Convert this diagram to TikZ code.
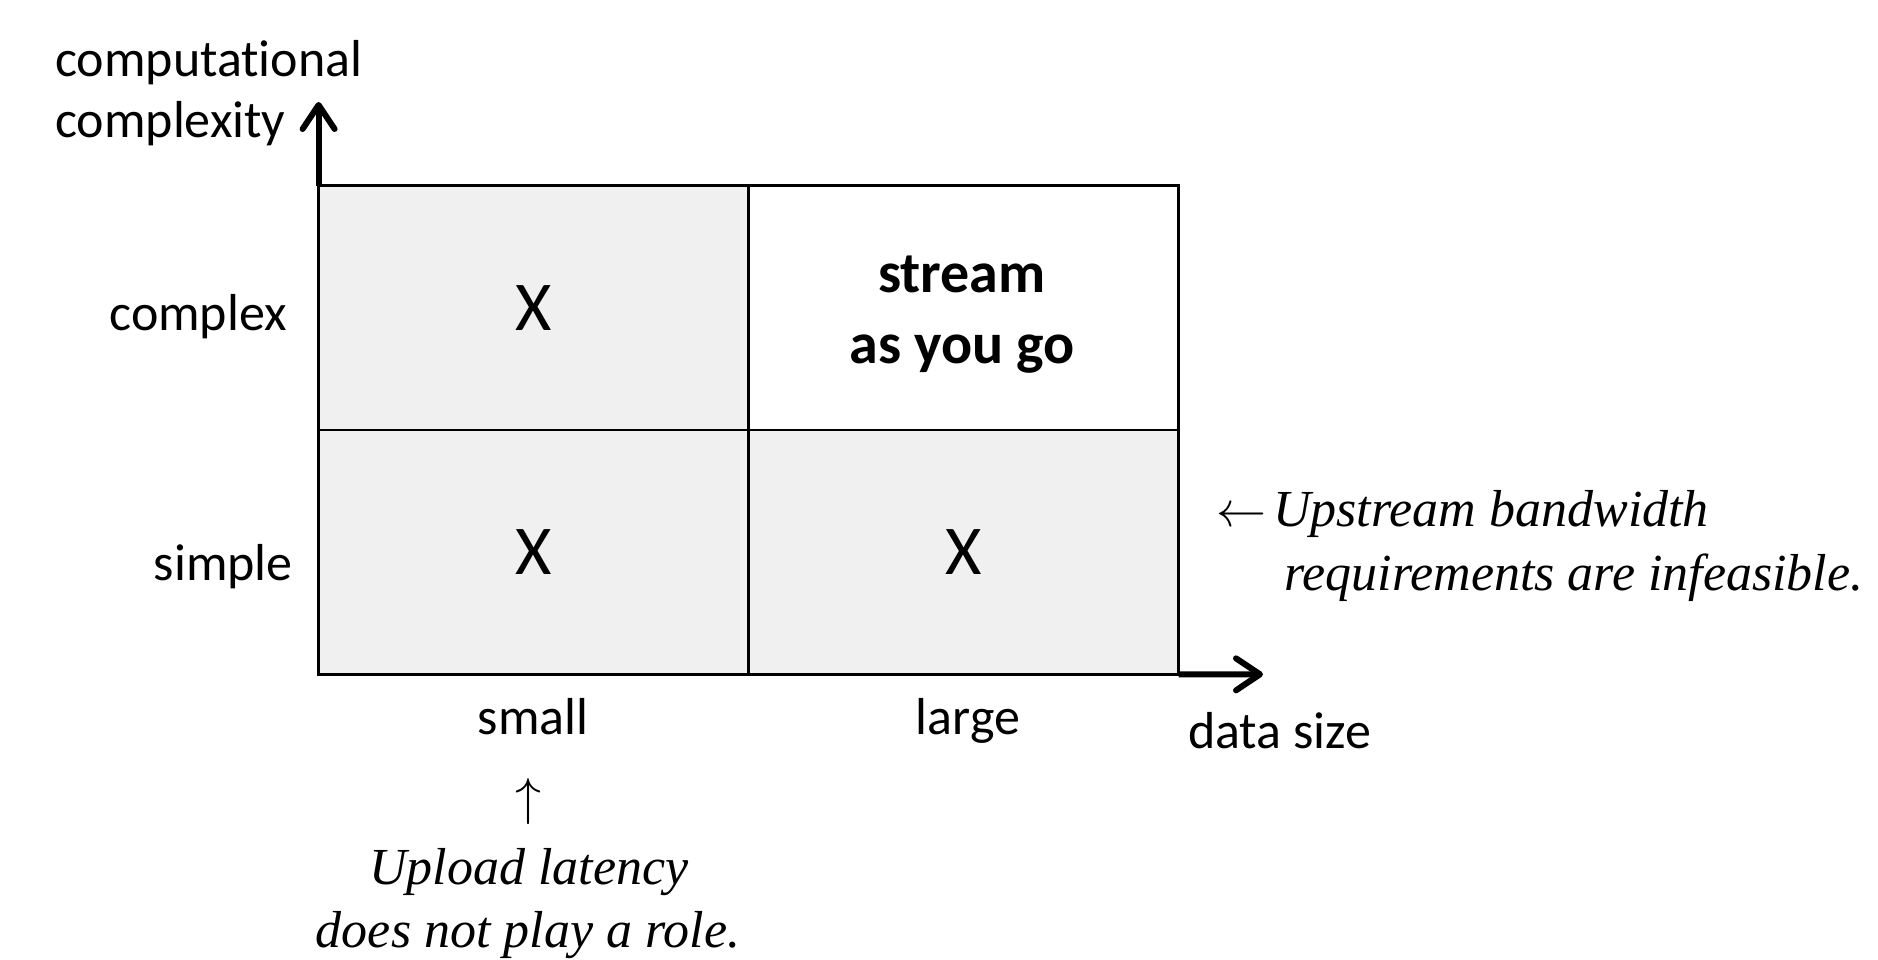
\RequirePackage{fix-cm}
\documentclass[tikz,border=0pt]{standalone}
\usepackage{fontspec}
\setmainfont{Carlito}[RawFeature={-liga,-dlig,-clig,-calt}]
\newfontfamily\notefont{Liberation Serif}
\usetikzlibrary{arrows.meta}
\definecolor{cellgray}{RGB}{240,240,240}

\begin{document}
\begin{tikzpicture}[x=1pt,y=-1pt,
  cell/.style={draw=black, line width=2.8pt, fill=cellgray,
    minimum width=430pt, minimum height=244.4pt, inner sep=0pt, outer sep=0pt,
    font=\fontsize{70}{84}\selectfont},
  axislabel/.style={inner sep=0pt, font=\fontsize{52}{63}\selectfont},
  note/.style={inner sep=0pt, font=\notefont\itshape\fontsize{52}{64}\selectfont},
  headline/.style={inner sep=0pt, font=\bfseries\fontsize{58}{71}\selectfont},
  axis/.style={line width=6pt, -{Straight Barb[length=24pt,width=32pt,round]}},
]
\useasboundingbox (0,0) rectangle (1878,960);

% the four quadrants
\node[cell] (c11) at (533.6,307.8) {X};
\node[cell, fill=white] (c12) at (963.5,307.8) {};
\node[cell] (c21) at (533.6,552.2) {X};
\node[cell] (c22) at (963.5,552.2) {X};

\node[headline, anchor=base] (s1) at (962,292) {stream};
\node[headline, anchor=base] (s2) at (962,363) {as you go};

% axes
\coordinate (ytip) at (318.6,102);
\coordinate (xtip) at (1263,674.3);
\draw[axis] (c11.north west) -- (ytip);
\draw[axis] (c22.south east) -- (xtip);

% axis labels (zero kern keeps t and i apart)
\node[axislabel, anchor=base west] (ylab1) at (55,77) {computat\kern0pt ional};
\node[axislabel, anchor=base west] (ylab2) at (55,138) {complexity};
\node[axislabel, anchor=base east] (rowtop) at (287,330) {complex};
\node[axislabel, anchor=base east] (rowbot) at (293,580) {simple};
\node[axislabel, anchor=base] (colleft) at (533,734) {small};
\node[axislabel, anchor=base] (colright) at (968,734) {large};
\node[axislabel, anchor=base west] (xlab) at (1188,748) {data size};

% remarks
\node[note, anchor=base west] (bw1) at (1216,526)
  {{\normalfont\fontsize{50}{50}\selectfont$\leftarrow$}\hspace{7pt}Upstream bandwidth};
\node[note, anchor=base west] (bw2) at (1284,590) {requirements are infeasible.};

\node[inner sep=0pt, font=\fontsize{52}{52}\selectfont] (up) at (528,801) {$\uparrow$};
\node[note, anchor=base] (lat1) at (529,884) {Upload latency};
\node[note, anchor=base] (lat2) at (528,947) {does not play a role.};
\end{tikzpicture}
\end{document}
